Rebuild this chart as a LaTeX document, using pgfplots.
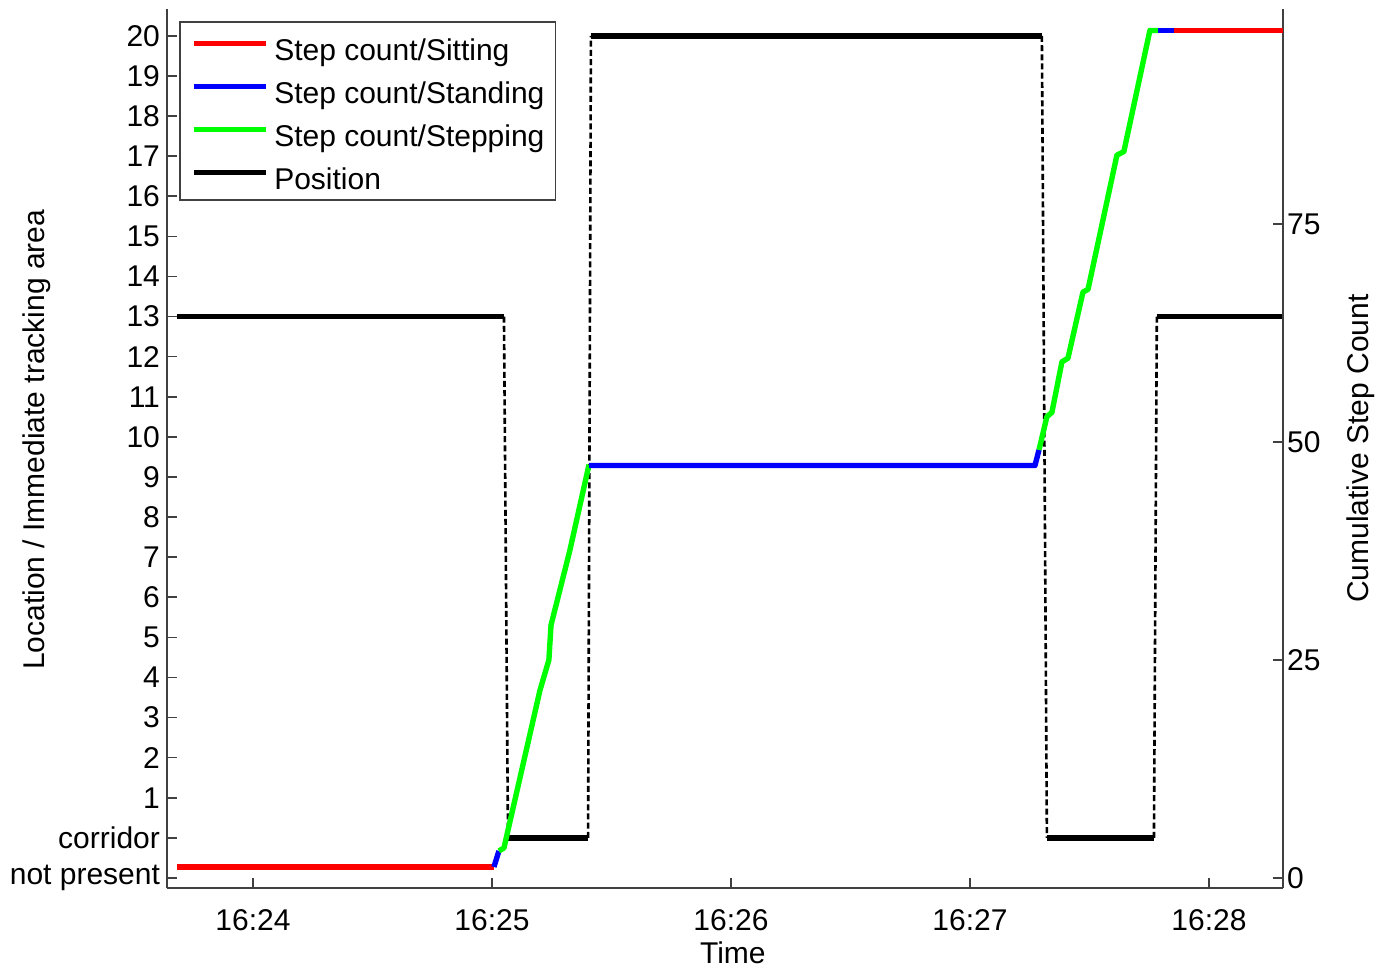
\documentclass[border=0pt]{standalone}
\usepackage{pgfplots}
\pgfplotsset{compat=1.18}
\usepackage{fontspec}
\setmainfont{Liberation Sans}
\definecolor{axgray}{gray}{0.25}
\pgfplotsset{
  common/.style={
    scale only axis, width=558pt, height=439.5pt,
    xmin=-0.360, xmax=4.310,
    tick align=inside, major tick length=5pt,
    every tick/.style={axgray, line width=0.8pt},
    axis line style={axgray, line width=0.8pt},
    /pgf/number format/assume math mode=true,
    tick label style={font=\fontsize{15}{18}\selectfont},
    clip=false,
  },
  poshor/.style={black, line width=2.7pt, forget plot},
  posver/.style={black, line width=1.3pt, dash pattern=on 3pt off 1.6pt, forget plot},
  sc/.style={line width=2.7pt, line join=round},
}
\begin{document}
\begin{tikzpicture}
\begin{axis}[common,
  axis x line*=bottom, axis y line*=left,
  ymin=-1.25, ymax=20.67,
  ytick={-1,0,1,2,3,4,5,6,7,8,9,10,11,12,13,14,15,16,17,18,19,20},
  yticklabels={not present,corridor,1,2,3,4,5,6,7,8,9,10,11,12,13,14,15,16,17,18,19,20},
  xtick={0,1,2,3,4},
  xticklabels={16:24,16:25,16:26,16:27,16:28},
  xticklabel style={yshift=-7pt},
  xlabel={Time},
  ylabel={Location / Immediate tracking area},
  every axis x label/.style={at={(axis description cs:0.507,-0.074)}, anchor=center, font=\fontsize{15}{18}\selectfont},
  every axis y label/.style={at={(axis description cs:-0.1165,0.51)}, rotate=90, anchor=center, font=\fontsize{15}{18}\selectfont},
]
% Position: horizontal segments
\addplot[poshor] coordinates {(-0.318,13) (1.050,13)};
\addplot[poshor] coordinates {(1.067,0) (1.402,0)};
\addplot[poshor] coordinates {(1.414,20) (3.301,20)};
\addplot[poshor] coordinates {(3.322,0) (3.770,0)};
\addplot[poshor] coordinates {(3.782,13) (4.310,13)};
% Position: transitions
\addplot[posver] coordinates {(1.050,13) (1.067,0)};
\addplot[posver] coordinates {(1.402,0) (1.414,20)};
\addplot[posver] coordinates {(3.301,20) (3.322,0)};
\addplot[posver] coordinates {(3.770,0) (3.782,13)};
\end{axis}
\begin{axis}[common,
  axis x line=none, axis y line*=right,
  ymin=-1.15, ymax=99.66,
  ytick={0,25,50,75},
  yticklabel style={xshift=-1.5pt},
  ylabel={Cumulative Step Count},
  every axis y label/.style={at={(axis description cs:1.0695,0.5)}, rotate=90, anchor=center, font=\fontsize{15}{18}\selectfont},
  legend style={at={(axis description cs:0.0108,0.9863)}, anchor=north west,
    draw=axgray, line width=0.8pt, fill=white,
    font=\fontsize{15}{18}\selectfont,
    inner xsep=5.5pt, inner ysep=5.25pt,
    row sep=7.5pt, column sep=3pt,
    nodes={inner sep=0pt, text height=14pt, text depth=0pt}},
  legend cell align=left,
  legend image code/.code={\draw[#1, line width=2.7pt] (0pt,1.5pt) -- (36pt,1.5pt);},
]
\addplot[sc, red] coordinates {(-0.318,1.26) (1.008,1.26)};
\addlegendentry{Step count/Sitting}
\addplot[sc, blue] coordinates {(1.008,1.26) (1.029,3.10)};
\addlegendentry{Step count/Standing}
\addplot[sc, green] coordinates {(1.029,3.10) (1.050,3.44) (1.201,21.56) (1.238,25.0) (1.247,29.0) (1.326,37.6) (1.406,47.4)};
\addlegendentry{Step count/Stepping}
\addplot[sc, blue, forget plot] coordinates {(1.406,47.3) (3.272,47.3) (3.289,49.1)};
\addplot[sc, green, forget plot] coordinates {(3.289,49.1) (3.322,52.9) (3.343,53.4) (3.385,59.2) (3.410,59.6) (3.473,67.2) (3.494,67.5) (3.615,82.9) (3.644,83.3) (3.753,97.2) (3.787,97.2)};
\addplot[sc, blue, forget plot] coordinates {(3.787,97.2) (3.854,97.2)};
\addplot[sc, red, forget plot] coordinates {(3.854,97.2) (4.310,97.2)};
\addlegendimage{black, line width=2.7pt}
\addlegendentry{Position}
\end{axis}
\pgfresetboundingbox
\useasboundingbox (-83.5pt,-40pt) rectangle (609pt,444pt);
\end{tikzpicture}
\end{document}
